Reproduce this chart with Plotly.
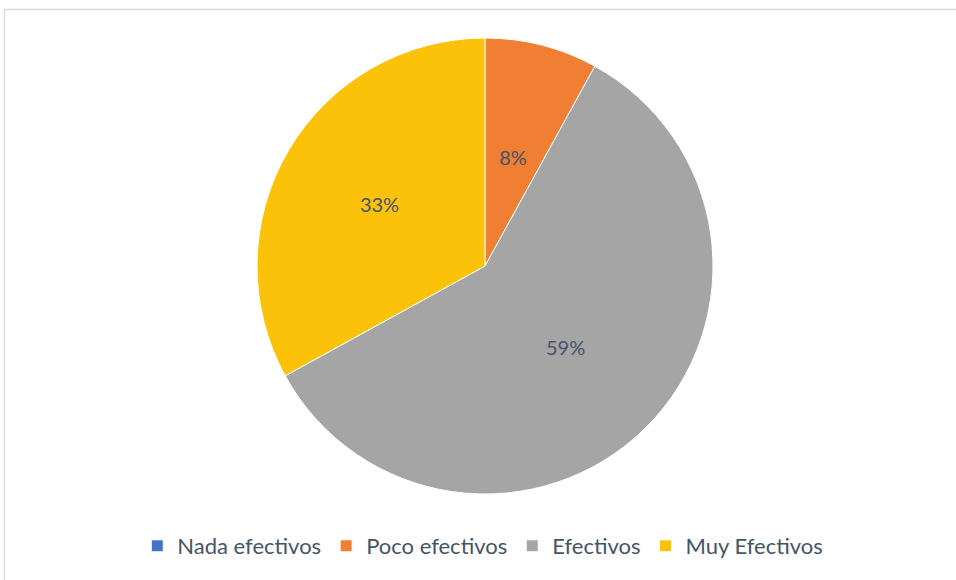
import plotly.graph_objects as go

categories = ["Nada efectivos", "Poco efectivos", "Efectivos", "Muy Efectivos"]
values = [0, 8, 59, 33]
colors = ["#4472C4", "#F07E33", "#A5A5A5", "#FCC20A"]

W, H = 956, 580
cx, cy, r = 485, 266, 228
r_small = 141  # overlay pie that puts the narrow slice label nearer the centre

label_color = "#44546A"
clear = "rgba(0,0,0,0)"


def dom(rad):
    return dict(x=[(cx - rad) / W, (cx + rad) / W], y=[1 - (cy + rad) / H, 1 - (cy - rad) / H])


fig = go.Figure()

# main pie
fig.add_trace(
    go.Pie(
        labels=categories,
        values=values,
        sort=False,
        direction="clockwise",
        rotation=0,
        marker=dict(colors=colors, line=dict(color="white", width=1)),
        texttemplate="%{percent:.0%}",
        textposition="inside",
        insidetextorientation="horizontal",
        textfont=dict(family="Lato", size=20, color=[clear, clear, label_color, label_color]),
        domain=dom(r),
        hoverinfo="label+percent",
    )
)

# transparent overlay just for the small slice label
fig.add_trace(
    go.Pie(
        labels=categories,
        values=values,
        sort=False,
        direction="clockwise",
        rotation=0,
        marker=dict(colors=[clear] * 4, line=dict(width=0)),
        texttemplate="%{percent:.0%}",
        textposition="inside",
        insidetextorientation="horizontal",
        textfont=dict(family="Lato", size=20, color=[clear, label_color, clear, clear]),
        domain=dom(r_small),
        hoverinfo="skip",
        showlegend=False,
    )
)

# chart border (only top and left visible in the picture)
fig.add_shape(
    type="rect", xref="paper", yref="paper",
    x0=4.5 / W, x1=1.05, y0=-0.05, y1=1 - 9.5 / H,
    line=dict(color="#D9D9D9", width=1.5), fillcolor=clear,
)

fig.update_layout(
    width=W,
    height=H,
    margin=dict(l=0, r=0, t=0, b=0),
    paper_bgcolor="white",
    plot_bgcolor="white",
    showlegend=True,
    legend=dict(
        orientation="h",
        x=0.505, xanchor="center",
        y=1 - 546 / H, yanchor="middle",
        font=dict(family="Lato", size=22, color=label_color),
        itemwidth=30,
        traceorder="normal",
    ),
)

fig.write_html(
    "out.html",
    config={"displayModeBar": False},
    post_script="document.body.style.margin='0px';",
)
